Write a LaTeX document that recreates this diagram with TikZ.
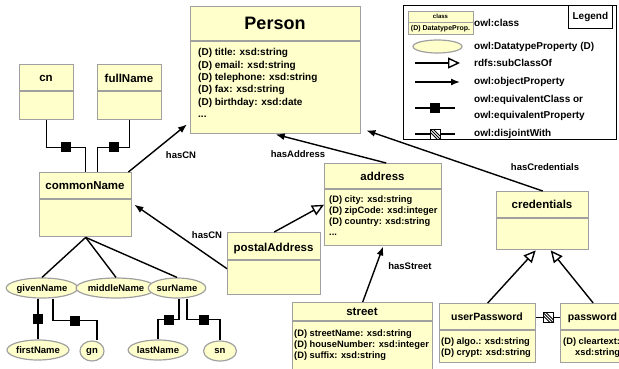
\documentclass[tikz,border=0pt]{standalone}
\usepackage{fontspec}
\setmainfont{Liberation Sans}
\usetikzlibrary{arrows.meta, calc, shapes.geometric}

\definecolor{clsfill}{HTML}{FFFFCC}
\definecolor{clsdraw}{HTML}{A0A0A0}

\tikzset{
  clsbox/.style={draw=clsdraw, fill=clsfill, line width=1.4pt, inner sep=0pt, anchor=north west},
  divline/.style={draw=clsdraw, line width=1.4pt},
  ctitle/.style={font=\bfseries\fontsize{11.5}{13}\selectfont, inner sep=0pt, text depth=0pt},
  attrs/.style={font=\bfseries\fontsize{9.3}{11}\selectfont, align=left, inner sep=0pt, anchor=north west},
  dprop/.style={ellipse, draw=clsdraw, fill=clsfill, line width=1.2pt, inner sep=0pt,
    minimum height=20pt, text depth=0pt, font=\bfseries\fontsize{9.5}{11}\selectfont},
  elabel/.style={font=\bfseries\fontsize{9.5}{11}\selectfont, inner sep=0pt, text depth=0pt},
  lglabel/.style={font=\bfseries\fontsize{10}{15.5}\selectfont, inner sep=0pt, anchor=west, align=left},
  plainline/.style={line width=1.4pt},
  objprop/.style={line width=1.4pt, -{Latex[length=9pt,width=7pt]}},
  subcls/.style={line width=1.4pt, -{Triangle[open, fill=white, length=12pt, width=11pt]}},
  eqsq/.style={fill=black, minimum size=10pt, inner sep=0pt},
  disjsq/.style={draw=black, fill=white, line width=1pt, minimum size=10pt, inner sep=0pt,
    path picture={
      \draw[line width=0.9pt] (path picture bounding box.north west) -- (path picture bounding box.south east);
      \draw[line width=0.9pt] ([xshift=3pt]path picture bounding box.north west) -- ([yshift=3pt]path picture bounding box.south east);
      \draw[line width=0.9pt] ([yshift=-3pt]path picture bounding box.north west) -- ([xshift=-3pt]path picture bounding box.south east);
    }},
}

\begin{document}
\begin{tikzpicture}[x=1pt, y=-1pt]
  \useasboundingbox (0,0) rectangle (619,368);
  \clip (0,0) rectangle (619,368);

  % classes
  \node[clsbox, minimum width=170pt, minimum height=127pt] (person) at (190,6) {};
  \draw[divline] (person.west |- 0,41) -- (person.east |- 0,41);
  \node[ctitle, font=\bfseries\fontsize{18}{20}\selectfont] (person-t) at (275,23.5) {Person};
  \node[attrs, font=\bfseries\fontsize{10}{12.3}\selectfont] (person-a) at (198,48.5)
    {(D) title: xsd:string\\(D) email: xsd:string\\(D) telephone: xsd:string\\(D) fax: xsd:string\\(D) birthday: xsd:date\\...};

  \node[clsbox, minimum width=54pt, minimum height=55pt] (cn) at (19,64) {};
  \draw[divline] (cn.west |- 0,91) -- (cn.east |- 0,91);
  \node[ctitle] (cn-t) at (46,78) {cn};

  \node[clsbox, minimum width=64pt, minimum height=55pt] (fullname) at (97,64) {};
  \draw[divline] (fullname.west |- 0,91) -- (fullname.east |- 0,91);
  \node[ctitle] (fullname-t) at (129,78) {fullName};

  \node[clsbox, minimum width=92pt, minimum height=64pt] (commonname) at (39,172) {};
  \draw[divline] (commonname.west |- 0,199) -- (commonname.east |- 0,199);
  \node[ctitle] (commonname-t) at (85,186) {commonName};

  \node[clsbox, minimum width=93pt, minimum height=62pt] (postaladdress) at (227,232) {};
  \draw[divline] (postaladdress.west |- 0,260) -- (postaladdress.east |- 0,260);
  \node[ctitle] (postaladdress-t) at (273.5,247) {postalAddress};

  \node[clsbox, minimum width=117pt, minimum height=82pt] (address) at (324,163) {};
  \draw[divline] (address.west |- 0,189) -- (address.east |- 0,189);
  \node[ctitle] (address-t) at (382.5,176) {address};
  \node[attrs] (address-a) at (329,195.7)
    {(D) city: xsd:string\\(D) zipCode: xsd:integer\\(D) country: xsd:string\\...};

  \node[clsbox, minimum width=140pt, minimum height=75pt] (street) at (292,302) {};
  \draw[divline] (street.west |- 0,321) -- (street.east |- 0,321);
  \node[ctitle] (street-t) at (362,312) {street};
  \node[attrs] (street-a) at (294,329.7)
    {(D) streetName: xsd:string\\(D) houseNumber: xsd:integer\\(D) suffix: xsd:string};

  \node[clsbox, minimum width=92pt, minimum height=58pt] (credentials) at (496,191) {};
  \draw[divline] (credentials.west |- 0,218) -- (credentials.east |- 0,218);
  \node[ctitle] (credentials-t) at (542,204) {credentials};

  \node[clsbox, minimum width=96pt, minimum height=59pt] (userpassword) at (439,303) {};
  \draw[divline] (userpassword.west |- 0,330) -- (userpassword.east |- 0,330);
  \node[ctitle, font=\bfseries\fontsize{10.5}{12}\selectfont] (userpassword-t) at (487,317) {userPassword};
  \node[attrs, font=\bfseries\fontsize{9.3}{10.5}\selectfont] (userpassword-a) at (441,337.7)
    {(D) algo.: xsd:string\\(D) crypt: xsd:string};

  \node[clsbox, minimum width=65pt, minimum height=59pt] (password) at (560,303) {};
  \draw[divline] (password.west |- 0,330) -- (password.east |- 0,330);
  \node[ctitle, font=\bfseries\fontsize{10.5}{12}\selectfont] (password-t) at (592.5,317) {password};
  \node[attrs, font=\bfseries\fontsize{9.3}{10.5}\selectfont] (password-a) at (563,337.7)
    {(D) cleartext:\\\hspace*{12pt}xsd:string};

  % datatype properties
  \node[dprop, minimum width=62pt] (givenname) at (42,288) {givenName};
  \node[dprop, minimum width=63pt] (middlename) at (116,288) {middleName};
  \node[dprop, minimum width=52pt] (surname) at (177,288) {surName};
  \node[dprop, minimum width=54pt] (firstname) at (38,350) {firstName};
  \node[dprop, minimum width=24pt] (gn) at (92,351) {gn};
  \node[dprop, minimum width=52pt] (lastname) at (158,350) {lastName};
  \node[dprop, minimum width=33pt] (sn) at (220,351) {sn};

  % equivalences
  \draw[plainline] (cn.south) -- ++(0,27) -| (commonname.north) node[pos=0.25, eqsq] {};
  \draw[plainline] (fullname.south) -- ++(0,27) -| ([xshift=12pt]commonname.north) node[pos=0.25, eqsq] {};
  \draw[plainline] ([xshift=-4pt]givenname.south) -- (firstname.north) node[midway, eqsq] {};
  \draw[plainline] ([xshift=11pt]givenname.south) -- ++(0,22) -| ([xshift=5pt]gn.north) node[pos=0.25, eqsq] {};
  \draw[plainline] ([xshift=2pt]surname.south) -- ++(0,21) -| (lastname.north) node[pos=0.25, eqsq] {};
  \draw[plainline] ([xshift=10pt]surname.south) -- ++(0,21) -| (sn.north) node[pos=0.25, eqsq] {};
  \draw[plainline] ([yshift=15.5pt]userpassword.east) -- ([yshift=15.5pt]password.west) node[midway, disjsq] {};

  % parts of commonName
  \draw[plainline] (commonname.south) -- (givenname.north);
  \draw[plainline] (commonname.south) -- (middlename.north);
  \draw[plainline] (commonname.south) -- (surname.north);

  % object properties
  \draw[objprop] ([xshift=-4pt]commonname.north east) -- ([xshift=-3pt, yshift=10pt]person.south west);
  \draw[objprop] ([yshift=-5pt]postaladdress.west) -- ([xshift=2pt]commonname.east);
  \draw[objprop] ([xshift=3pt]address.north) -- (person.south);
  \draw[objprop] (credentials.north) -- ([xshift=5pt, yshift=4pt]person.south east);
  \draw[objprop] (street.north) -- (address.south);

  % subclasses
  \draw[subcls] (postaladdress.north) -- (address.west);
  \draw[subcls] (userpassword.north) -- ([xshift=-7pt]credentials.south);
  \draw[subcls] (password.north) -- ([xshift=8pt]credentials.south);

  % labels
  \node[elabel] (lbl-cn1) at (181,155) {hasCN};
  \node[elabel] (lbl-cn2) at (207,235) {hasCN};
  \node[elabel] (lbl-addr) at (298,154) {hasAddress};
  \node[elabel] (lbl-cred) at (545,167) {hasCredentials};
  \node[elabel] (lbl-street) at (410,266) {hasStreet};

  % legend
  \node[draw, line width=1.2pt, fill=white, minimum width=213pt, minimum height=134pt, inner sep=0pt, anchor=north west] (legend) at (403,5) {};
  \node[draw, line width=1.2pt, minimum width=44pt, minimum height=23pt, inner sep=0pt, anchor=north east,
    font=\bfseries\fontsize{10}{12}\selectfont] (legend-t) at (613,5) {Legend};

  \node[clsbox, line width=1pt, minimum width=65pt, minimum height=23pt] (lg-cls) at (408,11) {};
  \draw[divline, line width=1pt] (lg-cls.west |- 0,22) -- (lg-cls.east |- 0,22);
  \node[ctitle, font=\bfseries\fontsize{6}{7}\selectfont] (lg-cls-t) at (440.5,16.5) {class};
  \node[ctitle, font=\bfseries\fontsize{7}{8}\selectfont] (lg-cls-a) at (440.5,28) {(D) DatatypeProp.};
  \node[dprop, minimum width=49pt, minimum height=13pt] (lg-dp) at (437.5,46.5) {};

  \node[lglabel] (lg-cls-l) at (474,23) {owl:class};
  \node[lglabel] (lg-dp-l) at (474,46.5) {owl:DatatypeProperty (D)};
  \node[lglabel] (lg-sub-l) at (474,63) {rdfs:subClassOf};
  \node[lglabel] (lg-obj-l) at (474,82) {owl:objectProperty};
  \node[lglabel] (lg-eq-l) at (474,108) {owl:equivalentClass or\\owl:equivalentProperty};
  \node[lglabel] (lg-dis-l) at (474,134) {owl:disjointWith};

  \draw[subcls] ([xshift=-59pt]lg-sub-l.west) -- ([xshift=-14pt]lg-sub-l.west);
  \draw[objprop] ([xshift=-59pt]lg-obj-l.west) -- ([xshift=-14pt]lg-obj-l.west);
  \draw[plainline] ([xshift=-59pt]lg-eq-l.west) -- ([xshift=-19pt]lg-eq-l.west) node[midway, eqsq] {};
  \draw[plainline] ([xshift=-59pt]lg-dis-l.west) -- ([xshift=-19pt]lg-dis-l.west) node[midway, disjsq] {};
\end{tikzpicture}
\end{document}
